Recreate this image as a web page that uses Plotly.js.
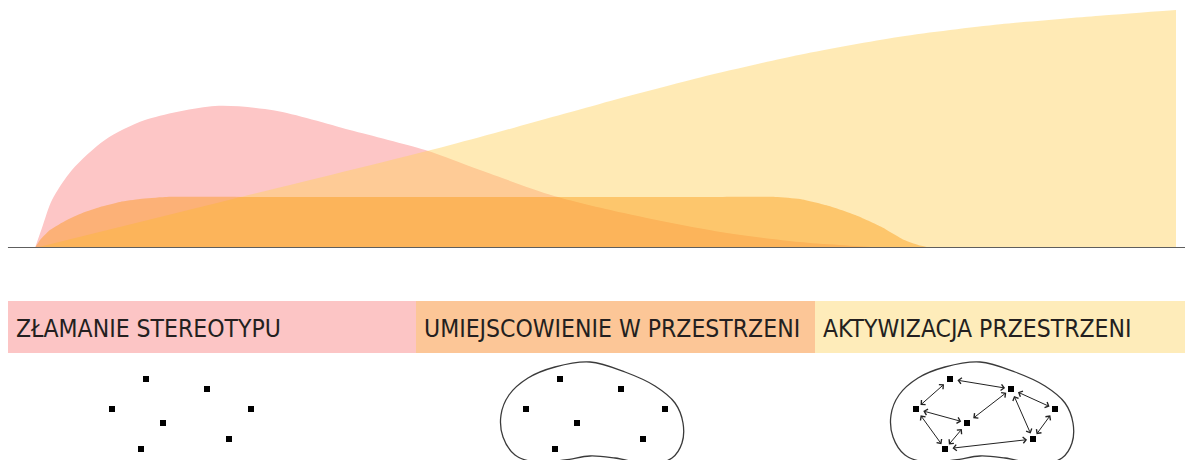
<!DOCTYPE html>
<html>
<head>
<meta charset="utf-8">
<script src="https://cdn.plot.ly/plotly-3.0.1.min.js"></script>
<style>html,body{margin:0;padding:0;background:#fff;}#chart{width:1185px;height:460px;}</style>
</head>
<body>
<div id="chart"></div>
<script>
// ---- Top chart: three phases (x = time 0..100, y = intensity) ----
const pinkX   = [0, 0.61, 1.49, 3.24, 6.13, 9.64, 15.78, 21.0, 27.6, 34.2, 39.0, 45.5, 52.0, 60.1, 67.0, 73.6, 75.8];
const pinkY   = [0, 8.3, 20.0, 32.5, 45.0, 53.3, 59.2, 57.3, 49.2, 40.8, 32.5, 21.7, 14.2, 6.7, 2.5, 0.4, 0];
const orangeX = [0, 0.44, 1.31, 2.8, 4.38, 5.7, 7.45, 9.2, 11.4, 20, 30, 40, 50, 60, 64.9, 67.05, 69.6, 71.9, 74.2, 76.2, 77.4, 78.6];
const orangeY = [0, 3.3, 7.5, 11.7, 15.0, 17.1, 19.2, 20.4, 21.25, 21.25, 21.25, 21.25, 21.25, 21.25, 21.25, 20.4, 17.5, 13.75, 8.75, 3.3, 1.25, 0];
const yellowX = [0, 17.35, 36.4, 49.5, 58.3, 67.05, 75.8, 84.6, 93.3, 100];
const yellowY = [0, 20.4, 42.9, 60.0, 71.0, 80.5, 88.0, 93.2, 96.8, 99.2];
const baseX   = [-2.37, 100.79];

// ---- Phase labels (bottom bands) ----
const phaseLabels = ["ZŁAMANIE STEREOTYPU", "UMIEJSCOWIENIE W PRZESTRZENI", "AKTYWIZACJA PRZESTRZENI"];
const bandEdges   = [8, 416, 815, 1185];
const bandColors  = ["#FCC5C5", "#FCC697", "#FEECBA"];

// ---- Diagrams (schematic units) ----
const dotsDX = [0, 61, -34, 105, 17, 83, -5];
const dotsDY = [379, 389, 409, 409, 423, 439, 449];
const dotOffsets = [146, 560, 950];
const blobDX = [30, 65, 95, 115, 123, 122, 112, 90, 55, 30, 5, -25, -45, -57, -59, -51, -32, -5, 30];
const blobDY = [362, 372, 386, 403, 423, 443, 458, 464, 458, 456, 460, 462, 455, 437, 415, 395, 378, 367, 362];
const blobOffsets = [560, 950];
const linkFrom = [0, 0, 2, 2, 4, 4, 1, 1, 3, 6];
const linkTo   = [1, 2, 4, 6, 1, 6, 3, 5, 5, 5];

const traces = [
  {x: pinkX, y: pinkY, type: 'scatter', mode: 'lines', fill: 'tozeroy',
   line: {width: 0, shape: 'spline', smoothing: 0.8}, fillcolor: 'rgb(253,198,198)', hoverinfo: 'skip'},
  {x: yellowX, y: yellowY, type: 'scatter', mode: 'lines', fill: 'tozeroy',
   line: {width: 0, shape: 'spline', smoothing: 0.8}, fillcolor: 'rgba(254,209,93,0.456)', hoverinfo: 'skip'},
  {x: orangeX, y: orangeY, type: 'scatter', mode: 'lines', fill: 'tozeroy',
   line: {width: 0, shape: 'spline', smoothing: 0.5}, fillcolor: 'rgba(251,144,0,0.4)', hoverinfo: 'skip'},
  {x: baseX, y: [0, 0], type: 'scatter', mode: 'lines', line: {color: '#5e5e5e', width: 2}, hoverinfo: 'skip'}
];

blobOffsets.forEach(o => {
  traces.push({x: blobDX.map(d => o + d), y: blobDY, xaxis: 'x2', yaxis: 'y2', type: 'scatter', mode: 'lines',
    line: {color: '#3a3a3a', width: 1.3, shape: 'spline', smoothing: 1}, hoverinfo: 'skip'});
});
dotOffsets.forEach(o => {
  traces.push({x: dotsDX.map(d => o + d), y: dotsDY, xaxis: 'x2', yaxis: 'y2', type: 'scatter', mode: 'markers',
    marker: {symbol: 'square', size: 6, color: '#000'}, hoverinfo: 'skip'});
});

const shapes = phaseLabels.map((t, i) => ({
  type: 'rect', xref: 'x2', yref: 'y2', x0: bandEdges[i], x1: bandEdges[i + 1], y0: 301, y1: 353,
  fillcolor: bandColors[i], line: {width: 0}, layer: 'below'
}));

const annotations = phaseLabels.map((t, i) => ({
  text: t, xref: 'x2', yref: 'y2', x: bandEdges[i] + 6, y: 328, xanchor: 'left', yanchor: 'middle',
  showarrow: false, font: {family: 'DejaVu Sans Condensed, sans-serif', size: 24.5, color: '#231f20'}
}));

const ro = dotOffsets[2];
linkFrom.forEach((a, k) => {
  const b = linkTo[k];
  annotations.push({
    xref: 'x2', yref: 'y2', axref: 'x2', ayref: 'y2',
    x: ro + dotsDX[b], y: dotsDY[b], ax: ro + dotsDX[a], ay: dotsDY[a],
    text: '', showarrow: true, arrowside: 'end+start', arrowhead: 4, startarrowhead: 4,
    arrowsize: 1.2, startarrowsize: 1.2, arrowwidth: 1, arrowcolor: '#222', standoff: 6, startstandoff: 6
  });
});

const hidden = {visible: false, showgrid: false, zeroline: false, fixedrange: true};
const layout = {
  width: 1185, height: 460, margin: {l: 0, r: 0, t: 0, b: 0},
  paper_bgcolor: '#fff', plot_bgcolor: 'rgba(0,0,0,0)', showlegend: false,
  xaxis: Object.assign({range: [-3.067, 100.79], domain: [0, 1]}, hidden),
  yaxis: Object.assign({range: [0, 103.33], domain: [0.4609, 1]}, hidden),
  xaxis2: Object.assign({range: [0, 1185], domain: [0, 1], anchor: 'y2'}, hidden),
  yaxis2: Object.assign({range: [460, 0], domain: [0, 1], anchor: 'x2'}, hidden),
  shapes: shapes, annotations: annotations
};

Plotly.newPlot('chart', traces, layout, {staticPlot: true, displayModeBar: false});
</script>
</body>
</html>
